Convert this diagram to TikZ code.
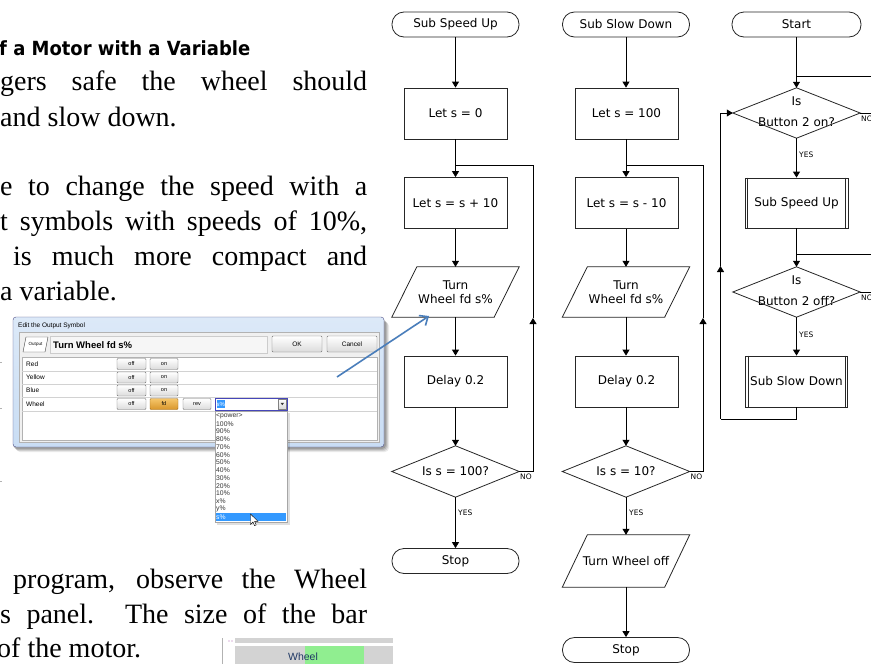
\documentclass[tikz,border=0pt]{standalone}
\usepackage{fontspec}
\usepackage{graphicx}
\setmainfont{Liberation Serif}
\newfontfamily\flowfont{DejaVu Sans}
\newfontfamily\uifont{Liberation Sans}
\newfontfamily\headfont{DejaVu Sans}
\usetikzlibrary{arrows.meta}
\definecolor{arrowblue}{HTML}{4A7EBB}
\definecolor{frameblue}{HTML}{C9DDF4}
\definecolor{frametop}{HTML}{DCE9F8}
\definecolor{selblue}{HTML}{3399FF}
\definecolor{panelgray}{HTML}{F0F0F0}
\definecolor{fdtop}{HTML}{F5C66B}
\definecolor{fdbot}{HTML}{D9962A}
\definecolor{fdborder}{HTML}{9C6A1E}
\definecolor{barbg}{HTML}{D3D3D3}
\definecolor{bargreen}{HTML}{90EE90}
\definecolor{wheeltext}{HTML}{1F3864}
\begin{document}
\begin{tikzpicture}[x=1pt,y=-1pt,
 flow/.style={font=\flowfont\fontsize{12}{14.5}\selectfont, align=center, inner sep=0pt},
 shapeline/.style={draw=black!85, line width=0.8pt},
 term/.style={flow, shapeline, rounded corners=12pt, minimum width=127pt, minimum height=25pt},
 proc/.style={flow, shapeline, minimum width=103pt, minimum height=51pt},
 io/.style={flow, minimum width=102pt, minimum height=50pt},
 dec/.style={flow, minimum width=127pt, minimum height=51pt},
 conn/.style={line width=0.8pt, black},
 arr/.style={conn, -{Triangle[length=6pt,width=7pt]}},
 lab/.style={font=\flowfont\fontsize{7.5}{9}\selectfont, inner sep=0pt},
 ui/.style={font=\uifont\fontsize{6}{7}\selectfont, inner sep=0pt},
 btn/.style={draw=black!55, top color=white, bottom color=black!14, rounded corners=1pt},
 bodytext/.style={anchor=base west, inner sep=0pt, font=\fontsize{28}{35}\selectfont},
]
\useasboundingbox (0,0) rectangle (871,664);
\clip (0,0) rectangle (871,664);
\fill[white] (0,0) rectangle (871,664);

% ---------------- page text ----------------
\node[anchor=base west, inner sep=0pt] (head) at (-1,55)
  {\resizebox{251pt}{\height}{\headfont\bfseries\fontsize{19.5}{22}\selectfont f a Motor with a Variable}};
\node[bodytext] (l1) at (0,90) {\makebox[367pt][s]{gers safe the wheel should}};
\node[bodytext] (l2) at (0,126) {and slow down.};
\node[bodytext] (l3) at (0,195) {\makebox[367pt][s]{e to change the speed with a}};
\node[bodytext] (l4) at (0,230) {\makebox[367pt][s]{t symbols with speeds of 10\%,}};
\node[bodytext] (l5) at (13,265) {\makebox[354pt][s]{is much more compact and}};
\node[bodytext] (l6) at (0,300) {a variable.};
\node[bodytext] (l7) at (13,588) {\makebox[354pt][s]{program, observe the Wheel}};
\node[bodytext] (l8) at (0,623) {\makebox[367pt][s]{s panel.\ \ The size of the bar}};
\node[bodytext] (l9) at (-3,657) {of the motor.};

\foreach \yy in {362,408,481} \draw[gray!60, line width=0.6pt] (0,\yy) -- (1.8,\yy);

% ---------------- dialog screenshot ----------------
\foreach \o/\op in {5/0.08,4/0.1,3/0.12,2/0.15}
  \fill[black, opacity=\op, rounded corners=4pt] (13+\o-2,317+\o) rectangle (384+\o,447+\o);
\draw[draw=black!45!blue!40!gray, top color=frametop, bottom color=frameblue, rounded corners=3pt] (13,317) rectangle (384,447);
\node[ui, anchor=west, font=\uifont\fontsize{6.5}{7}\selectfont] (dtitle) at (18,326) {Edit the Output Symbol};
\draw[gray!60, fill=panelgray] (19,332) rectangle (379,442);
\draw[black!70, fill=white] (23,352) -- (26,337) -- (48,337) -- (45,352) -- cycle;
\node[ui, font=\uifont\fontsize{4.5}{5}\selectfont] (outicon) at (35.5,344.5) {Output};
\draw[gray!40, fill=panelgray!60!white] (50,336) rectangle (267,353);
\node[anchor=west, inner sep=0pt, font=\uifont\bfseries\fontsize{9.5}{10}\selectfont] (symtext) at (53,345) {Turn Wheel fd s\%};
\draw[btn] (272,336) rectangle (322,352);
\node[ui, font=\uifont\fontsize{6.5}{7}\selectfont] (okb) at (297,344) {OK};
\draw[btn] (327,336) rectangle (377,352);
\node[ui, font=\uifont\fontsize{6.5}{7}\selectfont] (cancelb) at (352,344) {Cancel};
\draw[gray!60, fill=white] (22,357) rectangle (377,440);
\foreach \yy in {371,384,397,411} \draw[gray!35] (22,\yy) -- (377,\yy);
\foreach \nm/\yy in {Red/364,Yellow/377.5,Blue/390.5,Wheel/404} {
  \node[ui, anchor=west, font=\uifont\fontsize{6.5}{7}\selectfont] at (26,\yy) {\nm};
  \draw[btn] (117,\yy-5.5) rectangle (146,\yy+5.5);
  \node[ui, font=\uifont\fontsize{5.5}{6}\selectfont] at (131.5,\yy) {off};
}
\foreach \yy in {364,377.5,390.5} {
  \draw[btn] (150,\yy-5.5) rectangle (178,\yy+5.5);
  \node[ui, font=\uifont\fontsize{5.5}{6}\selectfont] at (164,\yy) {on};
}
\draw[draw=fdborder, top color=fdtop, bottom color=fdbot, rounded corners=1pt] (150,398.5) rectangle (178,409.5);
\node[ui, font=\uifont\fontsize{5.5}{6}\selectfont] (fdb) at (164,404) {fd};
\draw[btn] (183,398.5) rectangle (211,409.5);
\node[ui, font=\uifont\fontsize{5.5}{6}\selectfont] (revb) at (197,404) {rev};
\draw[draw=blue!45!gray, fill=white] (215,398) rectangle (287,410);
\fill[selblue] (216.5,400) rectangle (224.5,408);
\node[ui, anchor=west, text=white] (selv) at (216.5,404) {s\%};
\draw[draw=black!50, top color=white, bottom color=black!15] (278,399) rectangle (286.5,409);
\fill[black!80] (280.6,402.8) -- (284,402.8) -- (282.3,405.2) -- cycle;
% dropdown list
\fill[black, opacity=0.12] (217,413) rectangle (289.5,524.5);
\draw[gray!70, fill=white] (215,411) rectangle (287,522);
\fill[selblue] (216,513) rectangle (286,521);
\foreach \it [count=\i from 0] in {<power>,100\%,90\%,80\%,70\%,60\%,50\%,40\%,30\%,20\%,10\%,x\%,y\%} {
  \node[ui, anchor=west, text=black!80, font=\uifont\fontsize{6.8}{7}\selectfont] at (216,416+\i*7.75) {\it};
}
\node[ui, anchor=west, text=white, font=\uifont\fontsize{6.8}{7}\selectfont] (sitem) at (216,517) {s\%};
\draw[black, fill=white, line width=0.4pt] (250.5,514) -- (250.5,524.5) -- (253,522) -- (254.6,525.6) -- (256.2,525) -- (254.6,521.4) -- (258,521.4) -- cycle;

% Wheel bar panel
\draw[gray!60] (222,638) -- (222,664);
\fill[violet!60] (229,641) circle (0.6pt) (232,641) circle (0.6pt);
\fill[barbg] (235,638) rectangle (393,642.5);
\fill[barbg] (235,645.5) rectangle (393,664);
\fill[bargreen] (305,645.5) rectangle (364,664);
\node[inner sep=0pt, text=wheeltext, font=\uifont\fontsize{10.5}{12}\selectfont] (wheelbar) at (303,657) {Wheel};

% ---------------- column 1 : Sub Speed Up ----------------
\node[term] (t1) at (455.5,24.5) {Sub Speed Up};
\node[proc] (b1) at (455.5,113.5) {Let s = 0};
\node[proc] (b2) at (455.5,203) {Let s = s + 10};
\node[io] (p1) at (455.5,292) {Turn\\Wheel fd s\%};
\node[proc] (b3) at (455.5,381.5) {Delay 0.2};
\node[dec] (d1) at (455.5,471.5) {Is s = 100?};
\node[term] (t2) at (455.5,561) {Stop};

% ---------------- column 2 : Sub Slow Down ----------------
\node[term] (t3) at (626,24.5) {Sub Slow Down};
\node[proc] (b4) at (626.5,113.5) {Let s = 100};
\node[proc] (b5) at (626.5,203) {Let s = s - 10};
\node[io] (p2) at (626,292) {Turn\\Wheel fd s\%};
\node[proc] (b6) at (626.5,381.5) {Delay 0.2};
\node[dec] (d2) at (626,471.5) {Is s = 10?};
\node[io, minimum height=52pt] (p3) at (626,561) {Turn Wheel off};
\node[term] (t4) at (626,650) {Stop};

% ---------------- column 3 : main ----------------
\node[term, minimum width=129pt] (t5) at (796.5,24.5) {Start};
\node[dec, minimum height=50pt] (d3) at (796.5,113)
  {\raisebox{3pt}{\begin{tabular}{@{}c@{}}Is\\[6pt]Button 2 on?\end{tabular}}};
\node[proc, minimum height=50pt] (s1) at (796.5,203) {Sub Speed Up};
\node[dec, minimum height=50pt] (d4) at (796.5,292)
  {\raisebox{3pt}{\begin{tabular}{@{}c@{}}Is\\[6pt]Button 2 off?\end{tabular}}};
\node[proc, minimum width=102pt] (s2) at (796.5,381.5) {Sub Slow Down};

% shapes drawn from node anchors
\foreach \n in {d1,d2,d3,d4}
  \draw[shapeline] (\n.west) -- (\n.north) -- (\n.east) -- (\n.south) -- cycle;
\foreach \n in {p1,p2,p3}
  \draw[shapeline] ([xshift=-12.5pt]\n.south west) -- ([xshift=12.5pt]\n.north west)
     -- ([xshift=12.5pt]\n.north east) -- ([xshift=-12.5pt]\n.south east) -- cycle;
\foreach \n in {s1,s2} {
  \draw[shapeline] ([xshift=3pt]\n.north west) -- ([xshift=3pt]\n.south west);
  \draw[shapeline] ([xshift=-3pt]\n.north east) -- ([xshift=-3pt]\n.south east);
}

% ---------------- connectors column 1 ----------------
\draw[arr] (t1) -- (b1);
\draw[arr] (b1) -- (b2);
\draw[arr] (b2) -- (p1);
\draw[arr] (p1) -- (b3);
\draw[arr] (b3) -- (d1);
\draw[arr] (d1) -- (t2);
\node[lab, anchor=west] (y1) at (458,513) {YES};
\coordinate (j1) at (455.5,165);
\coordinate (r1a) at (533,471.5);
\coordinate (r1m) at (533,318);
\coordinate (r1b) at (533,165);
\draw[conn] (d1.east) -- (r1a);
\draw[arr] (r1a) -- (r1m);
\draw[conn] (r1m) -- (r1b) -- (j1);
\node[lab, anchor=north west] (n1) at (520,474) {NO};

% ---------------- connectors column 2 ----------------
\draw[arr] (t3) -- (b4.north -| t3);
\draw[arr] (b4.south -| t3) -- (b5.north -| t3);
\draw[arr] (b5.south -| t3) -- (p2);
\draw[arr] (p2) -- (b6.north -| p2);
\draw[arr] (b6.south -| p2) -- (d2);
\draw[arr] (d2) -- (p3);
\draw[arr] (p3) -- (t4);
\node[lab, anchor=west] (y2) at (629,513) {YES};
\coordinate (j2) at (626,165);
\coordinate (r2a) at (703,471.5);
\coordinate (r2m) at (703,318);
\coordinate (r2b) at (703,165);
\draw[conn] (d2.east) -- (r2a);
\draw[arr] (r2a) -- (r2m);
\draw[conn] (r2m) -- (r2b) -- (j2);
\node[lab, anchor=north west] (n2) at (690.5,474) {NO};

% ---------------- connectors column 3 ----------------
\draw[arr] (t5) -- (d3);
\draw[arr] (d3) -- (s1);
\draw[arr] (s1) -- (d4);
\draw[arr] (d4) -- (s2);
\node[lab, anchor=west] (y3) at (799,155) {YES};
\node[lab, anchor=west] (y4) at (799,335) {YES};
\coordinate (jt) at (796.5,76);
\coordinate (jte) at (880,76);
\coordinate (jm) at (796.5,254);
\coordinate (jme) at (880,254);
\coordinate (d3e) at (880,113);
\coordinate (d4e) at (880,292);
\draw[conn] (jt) -- (jte);
\draw[conn] (jm) -- (jme);
\draw[conn] (d3.east) -- (d3e);
\draw[conn] (d4.east) -- (d4e);
\node[lab, anchor=north west] (n3) at (861,116) {NO};
\node[lab, anchor=north west] (n4) at (861,295) {NO};
\coordinate (lb) at (796.5,419);
\coordinate (lbl) at (720.5,419);
\coordinate (lm) at (720.5,266);
\coordinate (lt) at (720.5,113);
\draw[conn] (s2) -- (lb) -- (lbl);
\draw[arr] (lbl) -- (lm);
\draw[arr] (lm) -- (lt) -- (d3.west);

% ---------------- blue pointer arrow ----------------
\coordinate (ba) at (337,377);
\coordinate (bb) at (429,316);
\draw[arrowblue, line width=1.6pt, -{Straight Barb[length=7pt,width=12pt]}] (ba) -- (bb);
\end{tikzpicture}
\end{document}
